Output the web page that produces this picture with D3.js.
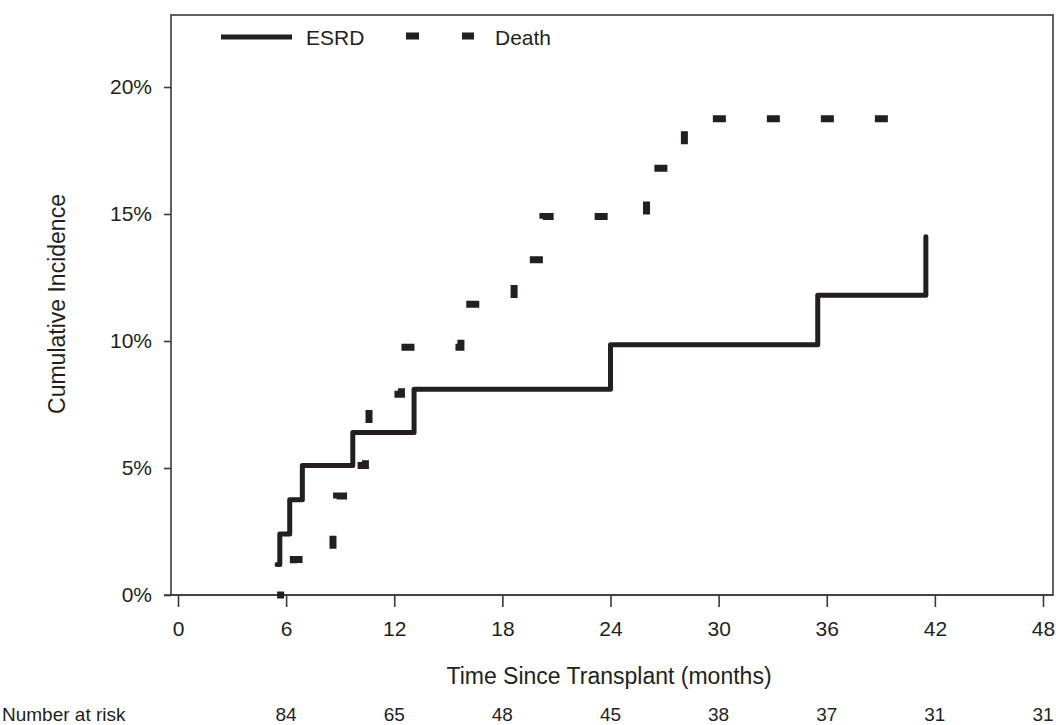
<!DOCTYPE html>
<html>
<head>
<meta charset="utf-8">
<script src="https://cdn.jsdelivr.net/npm/d3@7"></script>
<style>
  html, body { margin: 0; padding: 0; background: #fff; }
  svg text { font-family: "Liberation Sans", Arial, sans-serif; fill: #231f20; }
</style>
</head>
<body>
<svg id="chart" width="1056" height="725"></svg>
<script>
// ---- Data ----
const esrdTimes  = [5.5, 5.65, 6.2, 6.9, 9.7, 13.1, 24.0, 35.5, 41.5];
const esrdValues = [0.012, 0.024, 0.0375, 0.051, 0.064, 0.081, 0.0985, 0.118, 0.141];

const deathTimes  = [5.5, 6.4, 8.6, 8.8, 9.65, 10.4, 10.6, 12.4, 15.7, 18.65, 20.25, 26.0, 28.1, 39.4];
const deathValues = [0, 0.014, 0.027, 0.039, 0.051, 0.064, 0.079, 0.0975, 0.1145, 0.132, 0.149, 0.168, 0.1875, 0.1875];

const xTicks = [0, 6, 12, 18, 24, 30, 36, 42, 48];
const yTicks = [0, 0.05, 0.10, 0.15, 0.20];
const riskTimes  = [6, 12, 18, 24, 30, 36, 42, 48];
const riskCounts = [84, 65, 48, 45, 38, 37, 31, 31];

const seriesNames = ["ESRD", "Death"];

// ---- Layout ----
const svg = d3.select("#chart");
const ink = "#231f20";
const axisInk = "#3a3a3a";
const frame = { left: 171, right: 1053, top: 15, bottom: 595 };

const x = d3.scaleLinear().domain([0, 48]).range([178, 1043]);
const y = d3.scaleLinear().domain([0, 0.20]).range([595, 87]);

// Frame
svg.append("rect")
  .attr("x", frame.left).attr("y", frame.top)
  .attr("width", frame.right - frame.left)
  .attr("height", frame.bottom - frame.top)
  .attr("fill", "none").attr("stroke", axisInk).attr("stroke-width", 1.6);
// bottom axis line extending slightly left
svg.append("line")
  .attr("x1", 164).attr("x2", frame.right)
  .attr("y1", frame.bottom).attr("y2", frame.bottom)
  .attr("stroke", axisInk).attr("stroke-width", 1.6);

// Y axis
const yAxis = svg.append("g")
  .attr("transform", `translate(${frame.left},0)`)
  .call(d3.axisLeft(y).tickValues(yTicks).tickFormat(d3.format(".0%")).tickSize(7).tickSizeOuter(0));
yAxis.select(".domain").remove();
yAxis.selectAll(".tick line").attr("stroke", axisInk).attr("stroke-width", 1.6);
yAxis.selectAll(".tick text")
  .attr("x", -19).attr("dy", "0.33em")
  .style("font-size", "21px").style("font-family", "'Liberation Sans', Arial, sans-serif").attr("fill", ink);

// X axis
const xAxis = svg.append("g")
  .attr("transform", `translate(0,${frame.bottom})`)
  .call(d3.axisBottom(x).tickValues(xTicks).tickFormat(d3.format("d")).tickSize(12).tickSizeOuter(0));
xAxis.select(".domain").remove();
xAxis.selectAll(".tick line").attr("stroke", axisInk).attr("stroke-width", 1.6);
xAxis.selectAll(".tick text")
  .attr("y", 0).attr("dy", 0)
  .attr("transform", "translate(0,41)")
  .style("font-size", "21px").style("font-family", "'Liberation Sans', Arial, sans-serif").attr("fill", ink);

// Axis titles
svg.append("text")
  .attr("x", 609).attr("y", 684)
  .attr("text-anchor", "middle")
  .style("font-size", "23px")
  .text("Time Since Transplant (months)");

svg.append("text")
  .attr("transform", "translate(65,304) rotate(-90)")
  .attr("text-anchor", "middle")
  .style("font-size", "23px")
  .text("Cumulative Incidence");

// Number at risk row
svg.append("text")
  .attr("x", 2).attr("y", 721)
  .style("font-size", "19px")
  .text("Number at risk");
svg.append("g").selectAll("text")
  .data(riskTimes.map((t, i) => ({ t, n: riskCounts[i] })))
  .join("text")
  .attr("x", d => x(d.t)).attr("y", 721)
  .attr("text-anchor", "middle")
  .style("font-size", "19px")
  .text(d => d.n);

// Curves
const line = d3.line()
  .x(d => x(d.t)).y(d => y(d.v))
  .curve(d3.curveStepAfter);

const esrd = esrdTimes.map((t, i) => ({ t, v: esrdValues[i] }));
const death = deathTimes.map((t, i) => ({ t, v: deathValues[i] }));

svg.append("path")
  .datum(death)
  .attr("d", line)
  .attr("fill", "none")
  .attr("stroke", ink)
  .attr("stroke-width", 7)
  .attr("stroke-dasharray", "13,41")
  .attr("stroke-dashoffset", 6)
  .attr("stroke-linecap", "butt");

svg.append("path")
  .datum(esrd)
  .attr("d", line)
  .attr("fill", "none")
  .attr("stroke", ink)
  .attr("stroke-width", 5)
  .attr("stroke-linejoin", "round")
  .attr("stroke-linecap", "round");

// Legend
const legend = svg.append("g");
legend.append("line")
  .attr("x1", 221).attr("x2", 292).attr("y1", 37).attr("y2", 37)
  .attr("stroke", ink).attr("stroke-width", 5);
legend.append("text")
  .attr("x", 306).attr("y", 45)
  .style("font-size", "21px")
  .text(seriesNames[0]);
legend.append("line")
  .attr("x1", 406).attr("x2", 474).attr("y1", 36).attr("y2", 36)
  .attr("stroke", ink).attr("stroke-width", 7)
  .attr("stroke-dasharray", "13,43");
legend.append("text")
  .attr("x", 495).attr("y", 45)
  .style("font-size", "21px")
  .text(seriesNames[1]);
</script>
</body>
</html>
